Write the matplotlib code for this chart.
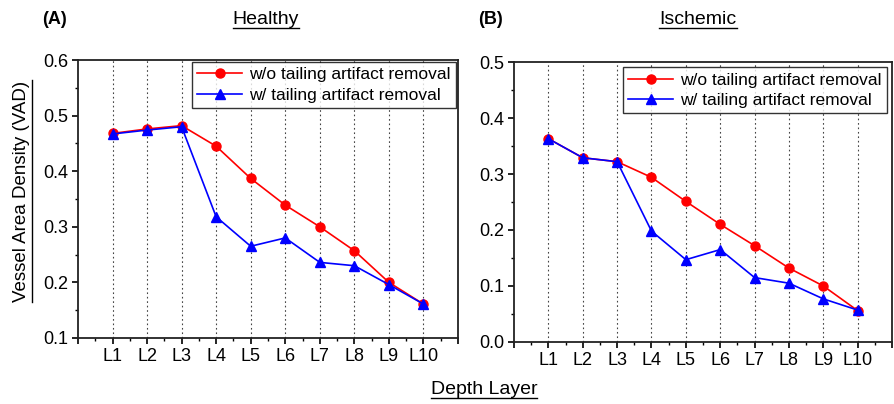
import matplotlib
matplotlib.use("Agg")
import matplotlib.pyplot as plt
from matplotlib.lines import Line2D
from matplotlib.ticker import FixedLocator, MultipleLocator

plt.rcParams['font.family'] = ['Liberation Sans', 'DejaVu Sans']

layers = ["L1", "L2", "L3", "L4", "L5", "L6", "L7", "L8", "L9", "L10"]
healthy_wo = [0.468, 0.476, 0.482, 0.445, 0.387, 0.339, 0.300, 0.257, 0.200, 0.161]
healthy_w = [0.467, 0.474, 0.480, 0.318, 0.265, 0.280, 0.236, 0.230, 0.196, 0.161]
isch_wo = [0.363, 0.329, 0.322, 0.294, 0.251, 0.210, 0.172, 0.132, 0.100, 0.056]
isch_w = [0.363, 0.329, 0.322, 0.198, 0.147, 0.165, 0.115, 0.105, 0.077, 0.057]
label_wo = "w/o tailing artifact removal"
label_w = "w/ tailing artifact removal"

fig = plt.figure(figsize=(8.94, 4.04), dpi=100)
ax1 = fig.add_axes([0.0872, 0.1634, 0.4251, 0.688])
ax2 = fig.add_axes([0.575, 0.1535, 0.4228, 0.693])

x = list(range(1, len(layers) + 1))

def style(ax, ylim, ystep):
    ax.set_xlim(0, len(layers) + 1)
    ax.set_ylim(*ylim)
    for xi in x:
        ax.axvline(xi, color='#444444', linestyle=(0, (1.5, 2.5)), lw=0.8, zorder=0)
    ax.xaxis.set_major_locator(FixedLocator(list(range(0, len(layers) + 2))))
    ax.set_xticklabels([""] + layers + [""])
    ax.xaxis.set_minor_locator(MultipleLocator(0.5))
    ax.yaxis.set_major_locator(MultipleLocator(ystep))
    ax.yaxis.set_minor_locator(MultipleLocator(ystep / 2))
    ax.yaxis.set_major_formatter(matplotlib.ticker.FormatStrFormatter('%.1f'))
    ax.tick_params(axis='both', which='major', direction='out', length=4, width=1.2,
                   labelsize=13, colors='black', pad=3)
    ax.tick_params(axis='both', which='minor', direction='out', length=2.5, width=1.0)
    ax.tick_params(axis='x', which='major', pad=3)
    for s in ax.spines.values():
        s.set_linewidth(1.3)
        s.set_color('#222222')

for ax, wo, w, ylim in [(ax1, healthy_wo, healthy_w, (0.1, 0.6)),
                        (ax2, isch_wo, isch_w, (0.0, 0.5))]:
    style(ax, ylim, 0.1)
    ax.plot(x, wo, color='red', marker='o', markersize=6.5, lw=1.2, label=label_wo, zorder=3)
    ax.plot(x, w, color='blue', marker='^', markersize=7.5, lw=1.2, label=label_w, zorder=4)

leg1 = ax1.legend(loc='upper right', fontsize=12.5, frameon=True, fancybox=False,
                  edgecolor='black', borderaxespad=0.12, handlelength=2.6,
                  handletextpad=0.4, borderpad=0.3, labelspacing=0.3)
leg1.get_frame().set_linewidth(1.0)
leg2 = ax2.legend(loc='upper right', fontsize=12.5, frameon=True, fancybox=False,
                  edgecolor='black', borderaxespad=0.3, handlelength=2.6,
                  handletextpad=0.4, borderpad=0.3, labelspacing=0.3)
leg2.get_frame().set_linewidth(1.0)

texts = []
fig.text(42 / 894, 1 - 20 / 404, "(A)", fontsize=13, fontweight='bold', va='center', ha='left')
fig.text(478 / 894, 1 - 20 / 404, "(B)", fontsize=13, fontweight='bold', va='center', ha='left')
texts.append(fig.text(266 / 894, 1 - 20 / 404, "Healthy", fontsize=14, va='center', ha='center'))
texts.append(fig.text(698 / 894, 1 - 20 / 404, "Ischemic", fontsize=14, va='center', ha='center'))
texts.append(fig.text(484 / 894, 1 - 390 / 404, "Depth Layer", fontsize=14, va='center', ha='center'))
ylab = fig.text(22 / 894, 1 - 191 / 404, "Vessel Area Density (VAD)", fontsize=13.5,
                va='center', ha='center', rotation=90)

fig.canvas.draw()
r = fig.canvas.get_renderer()
W, H = fig.bbox.width, fig.bbox.height
for t in texts:
    bb = t.get_window_extent(r)
    yline = (bb.y0 + 1) / H
    fig.add_artist(Line2D([bb.x0 / W, bb.x1 / W], [yline, yline], color='black', lw=1.0,
                          transform=fig.transFigure))
bb = ylab.get_window_extent(r)
xline = (bb.x1 + 1) / W
fig.add_artist(Line2D([xline, xline], [bb.y0 / H, bb.y1 / H], color='black', lw=1.0,
                      transform=fig.transFigure))

fig.savefig("out.png", dpi=100)
